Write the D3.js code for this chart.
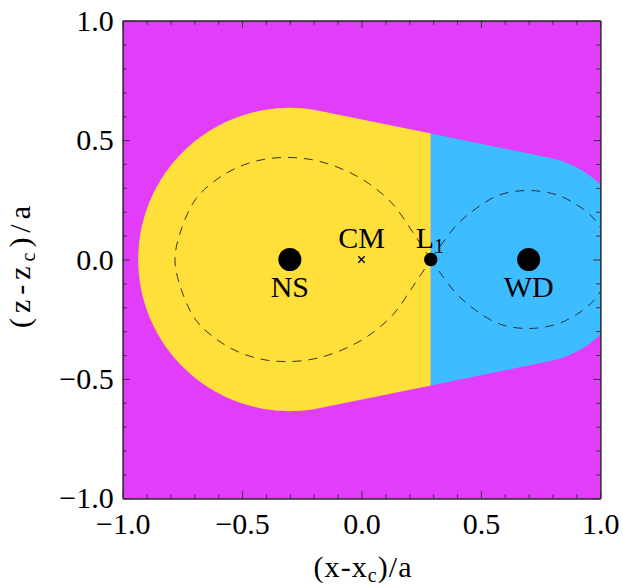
<!DOCTYPE html>
<html>
<head>
<meta charset="utf-8">
<script src="https://cdn.jsdelivr.net/npm/d3@7"></script>
<style>
  html, body { margin: 0; padding: 0; background: #fff; }
  svg { display: block; }
  text { font-family: "Liberation Serif", "Times New Roman", serif; fill: #000; }
</style>
</head>
<body>
<svg id="chart" width="623" height="586"></svg>
<script>
// ---------------- data ----------------
const xTicksMajor = [-1.0, -0.5, 0.0, 0.5, 1.0];
const yTicksMajor = [-1.0, -0.5, 0.0, 0.5, 1.0];
const minorTicks = [-0.9,-0.8,-0.7,-0.6,-0.4,-0.3,-0.2,-0.1,0.1,0.2,0.3,0.4,0.6,0.7,0.8,0.9];

// stars and points (x, z)
const bodyNames = ["NS", "WD"];
const bodyX = [-0.3, 0.7];
const bodyZ = [0, 0];
const cmX = 0.0, cmZ = 0.0;
const l1X = 0.29, l1Z = 0.0;

// outer envelope: hull of two circles (centre x, radius)
const envelopeX = [-0.3, 0.7];
const envelopeR = [0.635, 0.435];

// dashed Roche lobe outline
const leftLobeX = [0.29, 0.216, 0.132, 0.035, -0.061, -0.18, -0.287, -0.40, -0.509, -0.605, -0.695, -0.76, -0.781,
                   -0.76, -0.695, -0.605, -0.509, -0.40, -0.287, -0.18, -0.061, 0.035, 0.132, 0.216, 0.29];
const leftLobeZ = [0, 0.112, 0.231, 0.315, 0.370, 0.412, 0.427, 0.421, 0.390, 0.336, 0.252, 0.11, 0,
                   -0.11, -0.252, -0.336, -0.390, -0.421, -0.427, -0.412, -0.370, -0.315, -0.231, -0.112, 0];
const rightLobeX = [0.29, 0.329, 0.399, 0.482, 0.580, 0.699, 0.817, 0.901, 0.964, 1.006, 1.035, 1.045,
                    1.035, 1.006, 0.964, 0.901, 0.817, 0.699, 0.580, 0.482, 0.399, 0.329, 0.29];
const rightLobeZ = [0, 0.055, 0.145, 0.215, 0.271, 0.289, 0.271, 0.230, 0.181, 0.125, 0.06, 0,
                    -0.06, -0.125, -0.181, -0.230, -0.271, -0.289, -0.271, -0.215, -0.145, -0.055, 0];

// ---------------- layout ----------------
const svg = d3.select("#chart");
const L = 122.7, R = 600.3, T = 20.7, B = 498.3;
const x = d3.scaleLinear().domain([-1, 1]).range([L, R]);
const y = d3.scaleLinear().domain([-1, 1]).range([B, T]);

const colBg = "#e23dfb", colYellow = "#ffdf3a", colBlue = "#3dbcff", frameCol = "#333";
const FS = 30, SUB = 20;

const defs = svg.append("defs");
defs.append("clipPath").attr("id", "plotClip").append("rect")
  .attr("x", L).attr("y", T).attr("width", R - L).attr("height", B - T);
defs.append("clipPath").attr("id", "leftClip").append("rect")
  .attr("x", L).attr("y", T).attr("width", x(l1X) - L).attr("height", B - T);
defs.append("clipPath").attr("id", "rightClip").append("rect")
  .attr("x", x(l1X)).attr("y", T).attr("width", R - x(l1X)).attr("height", B - T);

// background
svg.append("rect").attr("x", L).attr("y", T).attr("width", R - L).attr("height", B - T).attr("fill", colBg);

// envelope hull from the two circles
const dC = envelopeX[1] - envelopeX[0];
const th = Math.acos((envelopeR[0] - envelopeR[1]) / dC);
const hull = [];
d3.range(th, 2 * Math.PI - th + 1e-9, (2 * Math.PI - 2 * th) / 200).forEach(a =>
  hull.push([envelopeX[0] + envelopeR[0] * Math.cos(a), envelopeR[0] * Math.sin(a)]));
d3.range(-th, th + 1e-9, (2 * th) / 200).forEach(a =>
  hull.push([envelopeX[1] + envelopeR[1] * Math.cos(a), envelopeR[1] * Math.sin(a)]));
const hullLine = d3.line().x(d => x(d[0])).y(d => y(d[1])).curve(d3.curveLinearClosed);

svg.append("path").attr("d", hullLine(hull)).attr("fill", colYellow).attr("clip-path", "url(#leftClip)");
svg.append("path").attr("d", hullLine(hull)).attr("fill", colBlue).attr("clip-path", "url(#rightClip)");

// dashed lobes
const lobeLine = d3.line().x(d => x(d[0])).y(d => y(d[1])).curve(d3.curveCatmullRom.alpha(0.5));
const gl = svg.append("g").attr("clip-path", "url(#plotClip)");
[[leftLobeX, leftLobeZ], [rightLobeX, rightLobeZ]].forEach(([lx, lz]) => {
  gl.append("path").attr("d", lobeLine(lx.map((v, i) => [v, lz[i]])))
    .attr("fill", "none").attr("stroke", "#222").attr("stroke-width", 0.9)
    .attr("stroke-dasharray", "9,7");
});

// axes (ticks inward)
function styleAxis(g) {
  g.selectAll("path.domain").attr("stroke", frameCol).attr("stroke-width", 1.2);
  g.selectAll(".tick line").attr("stroke", frameCol).attr("stroke-width", 1);
  g.selectAll("text").style("font-family", "'Liberation Serif', serif").style("font-size", FS + "px").attr("fill", "#000");
}
const fmt = v => (v < 0 ? "\u2212" : "") + d3.format(".1f")(Math.abs(v));

svg.append("g").attr("transform", `translate(0,${B})`)
  .call(d3.axisBottom(x).tickValues(minorTicks).tickSize(-4).tickSizeOuter(0).tickFormat(""))
  .call(styleAxis);
svg.append("g").attr("transform", `translate(0,${B})`)
  .call(d3.axisBottom(x).tickValues(xTicksMajor).tickSize(-7).tickSizeOuter(0).tickPadding(14).tickFormat(fmt))
  .call(styleAxis);
svg.append("g").attr("transform", `translate(0,${T})`)
  .call(d3.axisTop(x).tickValues(minorTicks).tickSize(-4).tickSizeOuter(0).tickFormat(""))
  .call(styleAxis);
svg.append("g").attr("transform", `translate(0,${T})`)
  .call(d3.axisTop(x).tickValues(xTicksMajor).tickSize(-7).tickSizeOuter(0).tickFormat(""))
  .call(styleAxis);
svg.append("g").attr("transform", `translate(${L},0)`)
  .call(d3.axisLeft(y).tickValues(minorTicks).tickSize(-4).tickSizeOuter(0).tickFormat(""))
  .call(styleAxis);
svg.append("g").attr("transform", `translate(${L},0)`)
  .call(d3.axisLeft(y).tickValues(yTicksMajor).tickSize(-7).tickSizeOuter(0).tickPadding(9).tickFormat(fmt))
  .call(styleAxis);
svg.append("g").attr("transform", `translate(${R},0)`)
  .call(d3.axisRight(y).tickValues(minorTicks).tickSize(-4).tickSizeOuter(0).tickFormat(""))
  .call(styleAxis);
svg.append("g").attr("transform", `translate(${R},0)`)
  .call(d3.axisRight(y).tickValues(yTicksMajor).tickSize(-7).tickSizeOuter(0).tickFormat(""))
  .call(styleAxis);

// markers
svg.selectAll("circle.body").data(bodyX).enter().append("circle").attr("class", "body")
  .attr("cx", d => x(d)).attr("cy", (d, i) => y(bodyZ[i])).attr("r", 11.5).attr("fill", "#000");
svg.append("circle").attr("cx", x(l1X)).attr("cy", y(l1Z)).attr("r", 6.7).attr("fill", "#000");
const cs = 3.2;
svg.append("path")
  .attr("d", `M${x(cmX)-cs},${y(cmZ)-cs}L${x(cmX)+cs},${y(cmZ)+cs}M${x(cmX)-cs},${y(cmZ)+cs}L${x(cmX)+cs},${y(cmZ)-cs}`)
  .attr("stroke", "#000").attr("stroke-width", 1.3);

// labels
svg.selectAll("text.body").data(bodyNames).enter().append("text").attr("class", "body")
  .attr("x", (d, i) => x(bodyX[i])).attr("y", (d, i) => y(bodyZ[i]) + 37)
  .attr("text-anchor", "middle").style("font-size", FS + "px").text(d => d);
svg.append("text").attr("x", x(cmX)).attr("y", y(cmZ) - 11.5)
  .attr("text-anchor", "middle").style("font-size", FS + "px").text("CM");
const l1t = svg.append("text").attr("x", x(l1X) - 15).attr("y", y(l1Z) - 11.5).style("font-size", FS + "px");
l1t.append("tspan").text("L");
l1t.append("tspan").attr("dy", 5).style("font-size", SUB + "px").text("1");

// axis titles
const xt = svg.append("text").attr("x", 362.5).attr("y", 577).attr("text-anchor", "middle")
  .style("font-size", FS + "px").attr("textLength", 98).attr("lengthAdjust", "spacing");
xt.append("tspan").text("(x-x");
xt.append("tspan").attr("dy", 5).style("font-size", SUB + "px").text("c");
xt.append("tspan").attr("dy", -5).text(")/a");

const yt = svg.append("text").attr("transform", `translate(30,267) rotate(-90)`)
  .attr("text-anchor", "middle").style("font-size", FS + "px")
  .attr("textLength", 122).attr("lengthAdjust", "spacing");
yt.append("tspan").text("(z-z");
yt.append("tspan").attr("dy", 5).style("font-size", SUB + "px").text("c");
yt.append("tspan").attr("dy", -5).text(")/a");
</script>
</body>
</html>
